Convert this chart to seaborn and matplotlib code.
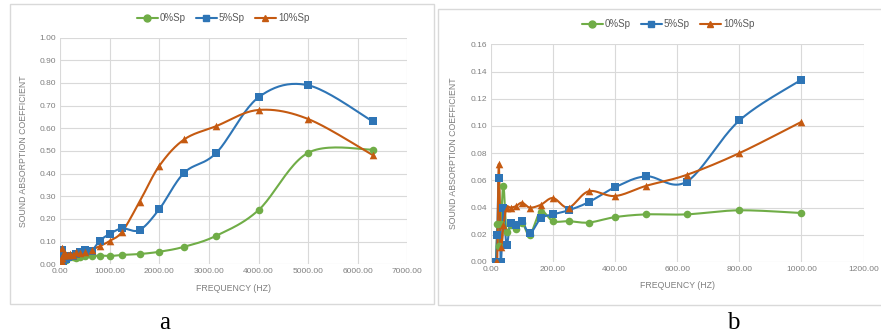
import numpy as np
import pandas as pd
import matplotlib
matplotlib.use("Agg")
import matplotlib.pyplot as plt
from matplotlib.lines import Line2D
from matplotlib.patches import Rectangle
import seaborn as sns

# One-third octave band centre frequencies (Hz)
freq = [16, 20, 25, 31.5, 40, 50, 63, 80, 100, 125, 160, 200, 250, 315, 400,
        500, 630, 800, 1000, 1250, 1600, 2000, 2500, 3150, 4000, 5000, 6300]

# Sound absorption coefficient per band
sp0 = [0.000, 0.028, 0.012, 0.028, 0.056, 0.022, 0.027, 0.024, 0.029, 0.020,
       0.037, 0.030, 0.030, 0.029, 0.033, 0.035, 0.035, 0.038, 0.036,
       0.041, 0.045, 0.055, 0.077, 0.126, 0.239, 0.492, 0.506]
sp5 = [0.000, 0.020, 0.062, 0.000, 0.040, 0.0125, 0.029, 0.027, 0.030, 0.021,
       0.032, 0.035, 0.038, 0.044, 0.055, 0.063, 0.059, 0.104, 0.134,
       0.158, 0.151, 0.244, 0.404, 0.492, 0.737, 0.790, 0.631]
sp10 = [0.000, 0.000, 0.072, 0.011, 0.027, 0.040, 0.040, 0.041, 0.0436, 0.040,
        0.042, 0.047, 0.040, 0.052, 0.0485, 0.056, 0.064, 0.080, 0.103,
        0.144, 0.276, 0.435, 0.551, 0.610, 0.681, 0.641, 0.482]

series_names = ["0%Sp", "5%Sp", "10%Sp"]
series_values = [sp0, sp5, sp10]
colors = ["#70AD47", "#2E75B6", "#C55A11"]
markers = ["o", "s", "^"]

TEXT = "#7F7F7F"
GRID = "#D9D9D9"


def smooth(x, y, n=24):
    """Smoothed line through the points (cubic Bezier, Catmull-Rom tangents)."""
    x = np.asarray(x, float)
    y = np.asarray(y, float)
    pts = np.column_stack([x, y])
    out = [pts[0]]
    t = np.linspace(0, 1, n)[1:, None]
    for i in range(len(pts) - 1):
        p0 = pts[max(i - 1, 0)]
        p1 = pts[i]
        p2 = pts[i + 1]
        p3 = pts[min(i + 2, len(pts) - 1)]
        c1 = p1 + (p2 - p0) / 6.0
        c2 = p2 - (p3 - p1) / 6.0
        seg = ((1 - t) ** 3) * p1 + 3 * ((1 - t) ** 2) * t * c1 \
            + 3 * (1 - t) * t ** 2 * c2 + t ** 3 * p2
        out.extend(seg)
    out = np.array(out)
    return out[:, 0], out[:, 1]


sns.set_theme(style="white")
plt.rcParams["font.family"] = ["Liberation Sans", "DejaVu Sans"]

W, H = 881, 333
fig = plt.figure(figsize=(W / 100, H / 100), dpi=100)


def px_axes(x0, y0, x1, y1):
    return fig.add_axes([x0 / W, 1 - y1 / H, (x1 - x0) / W, (y1 - y0) / H])


def draw_panel(ax, fmax, xmax, xstep, ymax, ystep):
    for name, vals, c, m in zip(series_names, series_values, colors, markers):
        f = [v for v in freq if v <= fmax]
        v = vals[:len(f)]
        sx, sy = smooth(f, v)
        sns.lineplot(x=sx, y=sy, ax=ax, color=c, lw=1.5, sort=False,
                     estimator=None, legend=False)
        sns.scatterplot(x=f, y=v, ax=ax, color=c, marker=m, s=30,
                        edgecolor=c, linewidth=0, legend=False, zorder=5)
    ax.set_xlim(0, xmax)
    ax.set_ylim(0, ymax)
    ax.set_xticks(np.arange(0, xmax + 1e-9, xstep))
    ax.set_yticks(np.arange(0, ymax + 1e-9, ystep))
    ax.xaxis.set_major_formatter(matplotlib.ticker.FormatStrFormatter("%.2f"))
    ax.yaxis.set_major_formatter(matplotlib.ticker.FormatStrFormatter("%.2f"))
    ax.tick_params(axis="both", labelsize=6, colors=TEXT, length=0, pad=3)
    ax.grid(True, color=GRID, lw=0.8)
    for s in ax.spines.values():
        s.set_visible(False)
    ax.set_xlabel("FREQUENCY (HZ)", fontsize=6.3, color=TEXT, labelpad=6)
    ax.set_ylabel("")


# Chart frames
fig.patches.append(Rectangle((10 / W, 1 - 304 / H), 424 / W, 300 / H,
                             transform=fig.transFigure, fill=False,
                             edgecolor=GRID, lw=1))
fig.patches.append(Rectangle((438 / W, 1 - 305 / H), 460 / W, 296 / H,
                             transform=fig.transFigure, fill=False,
                             edgecolor=GRID, lw=1))

ax1 = px_axes(60.3, 37.7, 407.3, 264.2)
draw_panel(ax1, 6300, 7000, 1000, 1.0, 0.1)
ax2 = px_axes(491, 44.3, 863.5, 262)
draw_panel(ax2, 1000, 1200, 200, 0.16, 0.02)

fig.text(24 / W, 1 - 151 / H, "SOUND ABSORPTION COEFFICIENT", rotation=90,
         ha="center", va="center", fontsize=6.3, color=TEXT)
fig.text(453 / W, 1 - 153 / H, "SOUND ABSORPTION COEFFICIENT", rotation=90,
         ha="center", va="center", fontsize=6.3, color=TEXT)

handles = [Line2D([0], [0], color=c, marker=m, lw=1.5, markersize=5)
           for c, m in zip(colors, markers)]
for cx, cy in [(223, 18), (668, 24)]:
    fig.legend(handles, series_names, loc="center", ncol=3, frameon=False,
               bbox_to_anchor=(cx / W, 1 - cy / H), fontsize=7,
               labelcolor="#595959", handlelength=2.2, handletextpad=0.2,
               columnspacing=1.0)

fig.text(165 / W, 4 / H, "a", ha="center", va="baseline", fontsize=18,
         family="Liberation Serif", color="black")
fig.text(733 / W, 4 / H, "b", ha="center", va="baseline", fontsize=18,
         family="Liberation Serif", color="black")

fig.savefig("out.png", dpi=100, facecolor="white")
